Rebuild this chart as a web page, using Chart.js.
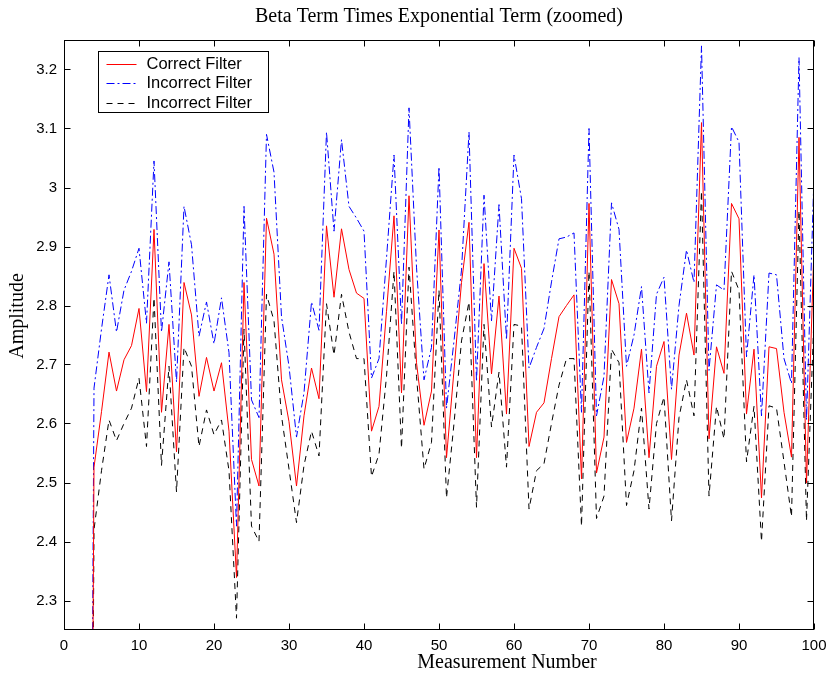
<!DOCTYPE html>
<html>
<head>
<meta charset="utf-8">
<script src="https://cdn.jsdelivr.net/npm/chart.js@4/dist/chart.umd.min.js"></script>
<style>
  html, body { margin: 0; padding: 0; background: #fff; }
  canvas { display: block; }
</style>
</head>
<body>
<canvas id="chart" width="832" height="678"></canvas>
<script>
// measurement index (first three points fall far below the zoomed window)
const measurement = [
  1, 2, 3, 4, 5, 6, 7, 8, 9, 10, 11, 12, 13, 14, 15, 16, 17, 18, 19, 20,
  21, 22, 23, 24, 25, 26, 27, 28, 29, 30, 31, 32, 33, 34, 35, 36, 37, 38, 39, 40,
  41, 42, 43, 44, 45, 46, 47, 48, 49, 50, 51, 52, 53, 54, 55, 56, 57, 58, 59, 60,
  61, 62, 63, 64, 65, 66, 67, 68, 69, 70, 71, 72, 73, 74, 75, 76, 77, 78, 79, 80,
  81, 82, 83, 84, 85, 86, 87, 88, 89, 90, 91, 92, 93, 94, 95, 96, 97, 98, 99, 100
];

const correctFilter = [
  0.0, 0.1, 0.4, 2.526, 2.62, 2.721, 2.655, 2.708, 2.732, 2.795,
  2.654, 2.929, 2.619, 2.768, 2.552, 2.839, 2.784, 2.646, 2.712, 2.655,
  2.703, 2.587, 2.339, 2.839, 2.539, 2.494, 2.948, 2.887, 2.674, 2.603,
  2.494, 2.613, 2.694, 2.642, 2.935, 2.814, 2.930, 2.861, 2.821, 2.812,
  2.587, 2.629, 2.79, 2.952, 2.652, 2.986, 2.703, 2.597, 2.655, 2.928,
  2.542, 2.69, 2.839, 2.941, 2.542, 2.871, 2.684, 2.816, 2.616, 2.897,
  2.863, 2.561, 2.619, 2.635, 2.71, 2.781, 2.80, 2.818, 2.506, 2.973,
  2.516, 2.577, 2.844, 2.803, 2.568, 2.626, 2.726, 2.542, 2.697, 2.739,
  2.539, 2.716, 2.787, 2.716, 3.110, 2.574, 2.730, 2.685, 2.973, 2.947,
  2.616, 2.726, 2.474, 2.730, 2.727, 2.619, 2.543, 3.085, 2.499, 2.90
];

const incorrectFilterA = [
  0.0, 0.1, 0.45, 2.66, 2.76, 2.852, 2.755, 2.826, 2.858, 2.897,
  2.77, 3.045, 2.755, 2.874, 2.67, 2.968, 2.903, 2.748, 2.806, 2.735,
  2.813, 2.72, 2.426, 2.968, 2.64, 2.61, 3.09, 3.026, 2.781, 2.697,
  2.577, 2.652, 2.806, 2.758, 3.094, 2.926, 3.081, 2.968, 2.948, 2.926,
  2.677, 2.710, 2.88, 3.055, 2.768, 3.135, 2.865, 2.674, 2.729, 3.035,
  2.626, 2.74, 2.86, 3.094, 2.671, 2.987, 2.774, 2.971, 2.742, 3.055,
  2.981, 2.694, 2.729, 2.761, 2.84, 2.913, 2.916, 2.923, 2.619, 3.10,
  2.613, 2.68, 2.974, 2.929, 2.697, 2.75, 2.832, 2.652, 2.819, 2.848,
  2.658, 2.80, 2.894, 2.839, 3.24, 2.69, 2.835, 2.826, 3.103, 3.077,
  2.713, 2.852, 2.613, 2.855, 2.852, 2.71, 2.668, 3.22, 2.606, 3.02
];

const incorrectFilterB = [
  0.0, 0.1, 0.35, 2.42, 2.52, 2.606, 2.571, 2.60, 2.626, 2.677,
  2.561, 2.813, 2.529, 2.697, 2.484, 2.729, 2.697, 2.561, 2.623, 2.581,
  2.606, 2.52, 2.27, 2.76, 2.426, 2.40, 2.819, 2.774, 2.613, 2.523,
  2.432, 2.529, 2.587, 2.545, 2.803, 2.716, 2.819, 2.755, 2.71, 2.71,
  2.51, 2.548, 2.68, 2.858, 2.558, 2.865, 2.68, 2.523, 2.568, 2.826,
  2.474, 2.6, 2.74, 2.806, 2.458, 2.768, 2.594, 2.687, 2.526, 2.768,
  2.765, 2.455, 2.52, 2.532, 2.60, 2.665, 2.71, 2.71, 2.426, 2.858,
  2.439, 2.477, 2.726, 2.703, 2.461, 2.52, 2.626, 2.455, 2.60, 2.645,
  2.435, 2.61, 2.674, 2.613, 2.994, 2.477, 2.629, 2.574, 2.858, 2.826,
  2.535, 2.629, 2.40, 2.63, 2.626, 2.535, 2.442, 2.961, 2.435, 2.78
];

const xTicks = [0, 10, 20, 30, 40, 50, 60, 70, 80, 90, 100];
const yTicks = [2.3, 2.4, 2.5, 2.6, 2.7, 2.8, 2.9, 3.0, 3.1, 3.2];

const toPoints = vals => vals.map((v, i) => ({ x: measurement[i], y: v }));

const serif = '"Liberation Serif", "Times New Roman", serif';
const sans = '"Liberation Sans", Arial, sans-serif';

// box around the axes, inward ticks on all four sides, the boxed legend
// and the two axis labels (which sit off-centre in the original figure)
const matlabFrame = {
  id: 'matlabFrame',
  afterDatasetsDraw(chart) {
    const { ctx, chartArea: a, scales } = chart;
    const L = Math.round(a.left) + 0.5, R = Math.round(a.right) - 0.5;
    const T = Math.round(a.top) + 0.5, B = Math.round(a.bottom) - 0.5;
    ctx.save();
    ctx.strokeStyle = '#000';
    ctx.lineWidth = 1;
    ctx.setLineDash([]);
    ctx.strokeRect(L, T, R - L, B - T);
    ctx.beginPath();
    xTicks.forEach(v => {
      const px = Math.round(scales.x.getPixelForValue(v)) + 0.5;
      ctx.moveTo(px, B); ctx.lineTo(px, B - 6);
      ctx.moveTo(px, T); ctx.lineTo(px, T + 6);
    });
    yTicks.forEach(v => {
      const py = Math.round(scales.y.getPixelForValue(v)) + 0.5;
      ctx.moveTo(L, py); ctx.lineTo(L + 6, py);
      ctx.moveTo(R, py); ctx.lineTo(R - 6, py);
    });
    ctx.stroke();

    // legend
    const bx = L + 34, by = T + 11, bw = 170, bh = 61;
    ctx.fillStyle = '#fff';
    ctx.fillRect(bx, by, bw, bh);
    ctx.strokeRect(bx, by, bw, bh);
    ctx.font = '16.5px ' + sans;
    ctx.textBaseline = 'middle';
    chart.data.datasets.forEach((ds, i) => {
      const ry = Math.round(by + 12 + i * 19.5) + 0.5;
      ctx.strokeStyle = ds.borderColor;
      ctx.setLineDash(ds.borderDash || []);
      ctx.beginPath();
      ctx.moveTo(bx + 8, ry);
      ctx.lineTo(bx + 38, ry);
      ctx.stroke();
      ctx.setLineDash([]);
      ctx.fillStyle = '#000';
      ctx.fillText(ds.label, bx + 48, ry);
    });

    // axis labels
    ctx.font = '20px ' + serif;
    ctx.fillStyle = '#000';
    ctx.textAlign = 'center';
    ctx.textBaseline = 'middle';
    ctx.fillText('Measurement Number', 507, 663);
    ctx.translate(18, 316);
    ctx.rotate(-Math.PI / 2);
    ctx.fillText('Amplitude', 0, 0);
    ctx.restore();
  }
};

new Chart(document.getElementById('chart'), {
  type: 'line',
  data: {
    datasets: [
      { label: 'Correct Filter', data: toPoints(correctFilter), borderColor: '#ff0000', borderWidth: 1 },
      { label: 'Incorrect Filter', data: toPoints(incorrectFilterA), borderColor: '#0000ff', borderWidth: 1, borderDash: [8, 3, 2, 3] },
      { label: 'Incorrect Filter', data: toPoints(incorrectFilterB), borderColor: '#000000', borderWidth: 1, borderDash: [6, 5] }
    ]
  },
  options: {
    responsive: false,
    animation: false,
    devicePixelRatio: 1,
    layout: { padding: { left: 0, right: 18, top: 0, bottom: 0 } },
    elements: { point: { radius: 0 }, line: { tension: 0 } },
    plugins: {
      legend: { display: false },
      tooltip: { enabled: false },
      title: {
        display: true,
        fullSize: false,
        text: 'Beta Term Times Exponential Term (zoomed)',
        color: '#000',
        font: { family: serif, size: 20, weight: 'normal', lineHeight: 1.125 },
        padding: { top: 5, bottom: 12.5 }
      }
    },
    scales: {
      x: {
        type: 'linear',
        min: 0,
        max: 100,
        afterBuildTicks: axis => { axis.ticks = xTicks.map(v => ({ value: v })); },
        afterFit: axis => { axis.height = 48; axis.paddingLeft = 0; axis.paddingRight = 0; },
        grid: { display: false, drawTicks: false },
        border: { display: false },
        ticks: {
          color: '#000',
          padding: 7,
          maxRotation: 0,
          font: { family: sans, size: 15 },
          callback: v => String(v)
        }
      },
      y: {
        type: 'linear',
        min: 2.25,
        max: 3.25,
        afterBuildTicks: axis => { axis.ticks = yTicks.map(v => ({ value: v })); },
        afterFit: axis => { axis.width = 64; axis.paddingTop = 0; axis.paddingBottom = 0; },
        grid: { display: false, drawTicks: false },
        border: { display: false },
        ticks: {
          color: '#000',
          padding: 7,
          font: { family: sans, size: 15 },
          callback: v => String(+v.toFixed(1))
        }
      }
    }
  },
  plugins: [matlabFrame]
});
</script>
</body>
</html>
